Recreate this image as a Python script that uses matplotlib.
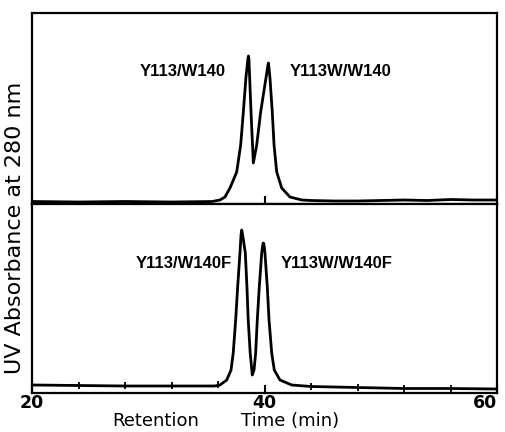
import numpy as np
import matplotlib
matplotlib.use('Agg')
from matplotlib import pyplot as plt

# 위쪽 크로마토그램 (Y113/W140, Y113W/W140)
top_time = [20, 24, 28, 32, 35.5, 36.17, 36.6, 37.03, 37.61, 37.95, 38.18, 38.4, 38.58, 38.62,
            38.66, 38.84, 39.04, 39.33, 39.67, 40.3, 40.33, 40.36, 40.47, 40.67, 40.82, 41.05,
            41.48, 42.19, 43.2, 44, 46, 48, 50, 52, 54, 56, 58, 60]
top_abs = [2.5, 2.0, 2.5, 2.0, 2.5, 4, 7, 16, 32, 59, 92, 126, 146, 148,
           145, 92, 41, 59, 92, 139, 141, 139, 126, 92, 59, 32,
           16, 7, 4, 3.5, 3, 3, 3.5, 4, 3.5, 4.5, 4, 4]

# 아래쪽 크로마토그램 (Y113/W140F, Y113W/W140F)
bot_time = [20, 24, 28, 32, 35.7, 36.17, 36.75, 37.12, 37.31, 37.52, 37.69, 37.89, 37.98, 38.04,
            38.12, 38.35, 38.49, 38.6, 38.77, 38.95, 39.1, 39.24, 39.38, 39.55, 39.76, 39.86,
            39.9, 39.95, 40.04, 40.24, 40.39, 40.62, 40.84, 41.33, 42.34, 44, 48, 52, 56, 60]
bot_abs = [8, 7.5, 7, 7, 7, 8, 13, 23, 40, 73, 106, 140, 158, 163,
           158, 140, 106, 73, 40, 18, 23, 40, 73, 106, 140, 149,
           150, 149, 140, 106, 73, 40, 23, 13, 8, 6.5, 5.5, 4.5, 4.5, 4]

# 분획 표시 (아래 패널 기준선 위 눈금)
frac_time = [24, 28, 32, 36, 44, 48, 52, 56]

top_labels = ['Y113/W140', 'Y113W/W140']
bot_labels = ['Y113/W140F', 'Y113W/W140F']

fig = plt.figure(figsize=(5.06, 4.32), dpi=100)
ax1 = fig.add_axes([32/506, 1-204/432, 465/506, 191/432])
ax2 = fig.add_axes([32/506, 1-393/432, 465/506, 189/432])

ax1.plot(top_time, top_abs, color='black', lw=2.0)
ax2.plot(bot_time, bot_abs, color='black', lw=2.0)

fb = np.interp(frac_time, bot_time, bot_abs)
ax2.vlines(frac_time, fb - 3, fb + 4, color='black', lw=1.3)

ax1.set_ylim(0, 191)
ax2.set_ylim(0, 189)
for ax in (ax1, ax2):
    ax.set_xlim(20, 60)
    ax.set_xticks([20, 40, 60])
    ax.set_yticks([])
    ax.tick_params(axis='x', direction='in', length=6, width=1.5)
    for s in ax.spines.values():
        s.set_linewidth(1.6)
ax1.set_xticklabels([])
ax2.set_xticklabels(['20', '40', '60'], fontsize=12.5, fontweight='bold')
ax2.tick_params(axis='x', pad=1)
ax2.get_xticklabels()[-1].set_horizontalalignment('right')

lab_font = dict(fontsize=12, fontweight='bold', family=['Liberation Sans', 'DejaVu Sans'],
                va='center', ha='center')
ax1.text(32.95, 132, top_labels[0], **lab_font)
ax1.text(46.58, 132, top_labels[1], **lab_font)
ax2.text(33.03, 130, bot_labels[0], **lab_font)
ax2.text(46.19, 130, bot_labels[1], **lab_font)

fig.text(15/506, 1-228/432, 'UV Absorbance at 280 nm', rotation=90, fontsize=16,
         ha='center', va='center')
fig.text(156/506, 1-421/432, 'Retention', fontsize=13, ha='center', va='center')
fig.text(290/506, 1-421/432, 'Time (min)', fontsize=13, ha='center', va='center')

plt.savefig('out.png', dpi=100)
